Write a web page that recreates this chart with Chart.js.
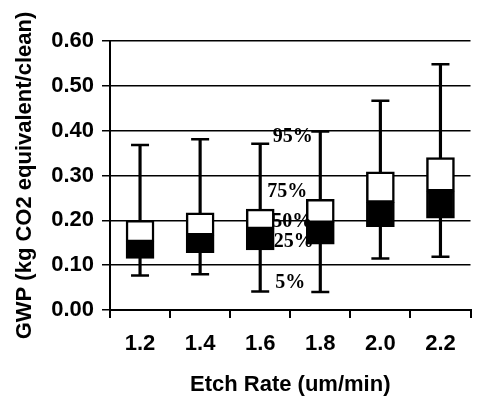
<!DOCTYPE html>
<html>
<head>
<meta charset="utf-8">
<script src="https://cdn.jsdelivr.net/npm/chart.js@4.4.0/dist/chart.umd.min.js"></script>
<style>
  html, body { margin: 0; padding: 0; width: 477px; height: 402px; overflow: hidden; background: #fff; }
  #wrap { width: 482px; height: 402px; }
</style>
</head>
<body>
<div id="wrap"><canvas id="c" width="482" height="402"></canvas></div>
<script>
// GWP per clean by etch rate: percentile summary for each rate
const etchRates = ['1.2', '1.4', '1.6', '1.8', '2.0', '2.2'];
const p95 = [0.368, 0.381, 0.371, 0.398, 0.467, 0.548];
const p75 = [0.200, 0.217, 0.225, 0.247, 0.308, 0.340];
const p50 = [0.152, 0.167, 0.181, 0.195, 0.240, 0.265];
const p25 = [0.115, 0.128, 0.134, 0.147, 0.186, 0.205];
const p5  = [0.077, 0.080, 0.041, 0.040, 0.115, 0.119];

// Percentile key, written beside the 1.8 um/min box
const keyRate = '1.8';
const keyLabels = ['95%', '75%', '50%', '25%', '5%'];
const keySeries = [p95, p75, p50, p25, p5];

const sansBold = { family: "'Liberation Sans', Arial, sans-serif", size: 22, weight: 'bold' };

// Text nudges (px) for the percentile key so it clears the whiskers and box edges
const keyNudge = [
  { dx: 2.5, dy: 5 },
  { dx: -3, dy: -7.5 },
  { dx: 2, dy: -0.5 },
  { dx: 3.5, dy: -2 },
  { dx: 0, dy: -9.5 }
];

const percentileKey = {
  id: 'percentileKey',
  afterDatasetsDraw(chart) {
    const { ctx, scales: { x, y } } = chart;
    const idx = etchRates.indexOf(keyRate);
    const xKey = (x.getPixelForValue(idx - 1) + x.getPixelForValue(idx)) / 2;
    ctx.save();
    ctx.fillStyle = '#000';
    ctx.font = "bold 20px 'Liberation Serif', 'Times New Roman', serif";
    ctx.textAlign = 'center';
    ctx.textBaseline = 'middle';
    keyLabels.forEach((txt, k) => {
      const yPix = y.getPixelForValue(keySeries[k][idx]);
      ctx.fillText(txt, xKey + keyNudge[k].dx, yPix + keyNudge[k].dy);
    });
    ctx.restore();
  }
};

const pairs = (lo, hi) => etchRates.map((_, i) => [lo[i], hi[i]]);

new Chart(document.getElementById('c'), {
  type: 'bar',
  data: {
    labels: etchRates,
    datasets: [
      {
        type: 'bar',
        label: '25%-50%',
        data: pairs(p25, p50),
        backgroundColor: '#000',
        borderColor: '#000',
        borderWidth: 2,
        borderSkipped: false,
        barThickness: 28,
        grouped: false,
        order: 1
      },
      {
        type: 'bar',
        label: '50%-75%',
        data: pairs(p50, p75),
        backgroundColor: '#fff',
        borderColor: '#000',
        borderWidth: 2.5,
        borderSkipped: false,
        barThickness: 28,
        grouped: false,
        order: 1
      },
      {
        type: 'line',
        label: '95%',
        data: p95,
        showLine: false,
        pointStyle: 'line',
        pointRadius: 9,
        pointBorderWidth: 2.5,
        pointBorderColor: '#000',
        borderColor: '#000',
        order: 2
      },
      {
        type: 'line',
        label: '5%',
        data: p5,
        showLine: false,
        pointStyle: 'line',
        pointRadius: 9,
        pointBorderWidth: 2.5,
        pointBorderColor: '#000',
        borderColor: '#000',
        order: 2
      },
      {
        type: 'bar',
        label: '5%-95%',
        data: pairs(p5, p95),
        backgroundColor: '#000',
        borderWidth: 0,
        barThickness: 2.5,
        grouped: false,
        order: 3
      }
    ]
  },
  options: {
    responsive: false,
    animation: false,
    devicePixelRatio: 1,
    layout: { padding: { top: 41, right: 1, bottom: 0, left: 0 } },
    plugins: {
      legend: { display: false },
      tooltip: { enabled: false }
    },
    scales: {
      x: {
        type: 'category',
        offset: true,
        grid: { offset: true, drawOnChartArea: false, drawTicks: true, tickLength: 8, color: '#000', lineWidth: 2 },
        border: { display: true, color: '#000', width: 2 },
        ticks: { color: '#000', font: sansBold, padding: 13, maxRotation: 0 },
        title: {
          display: true,
          text: 'Etch Rate (um/min)',
          color: '#000',
          font: sansBold,
          padding: { top: 0, bottom: 4 }
        },
        afterFit(scale) { scale.height = 92; }
      },
      y: {
        min: 0,
        max: 0.6,
        ticks: {
          stepSize: 0.1,
          color: '#000',
          font: sansBold,
          padding: 8,
          callback: (v) => Number(v).toFixed(2)
        },
        grid: { color: '#000', lineWidth: 1.5, tickLength: 8, drawTicks: true },
        border: { display: true, color: '#000', width: 2 },
        title: {
          display: true,
          text: 'GWP (kg CO2 equivalent/clean)',
          color: '#000',
          font: sansBold,
          padding: { top: 12, bottom: 0 }
        },
        afterFit(scale) { scale.width = 110; }
      }
    }
  },
  plugins: [percentileKey]
});
</script>
</body>
</html>
